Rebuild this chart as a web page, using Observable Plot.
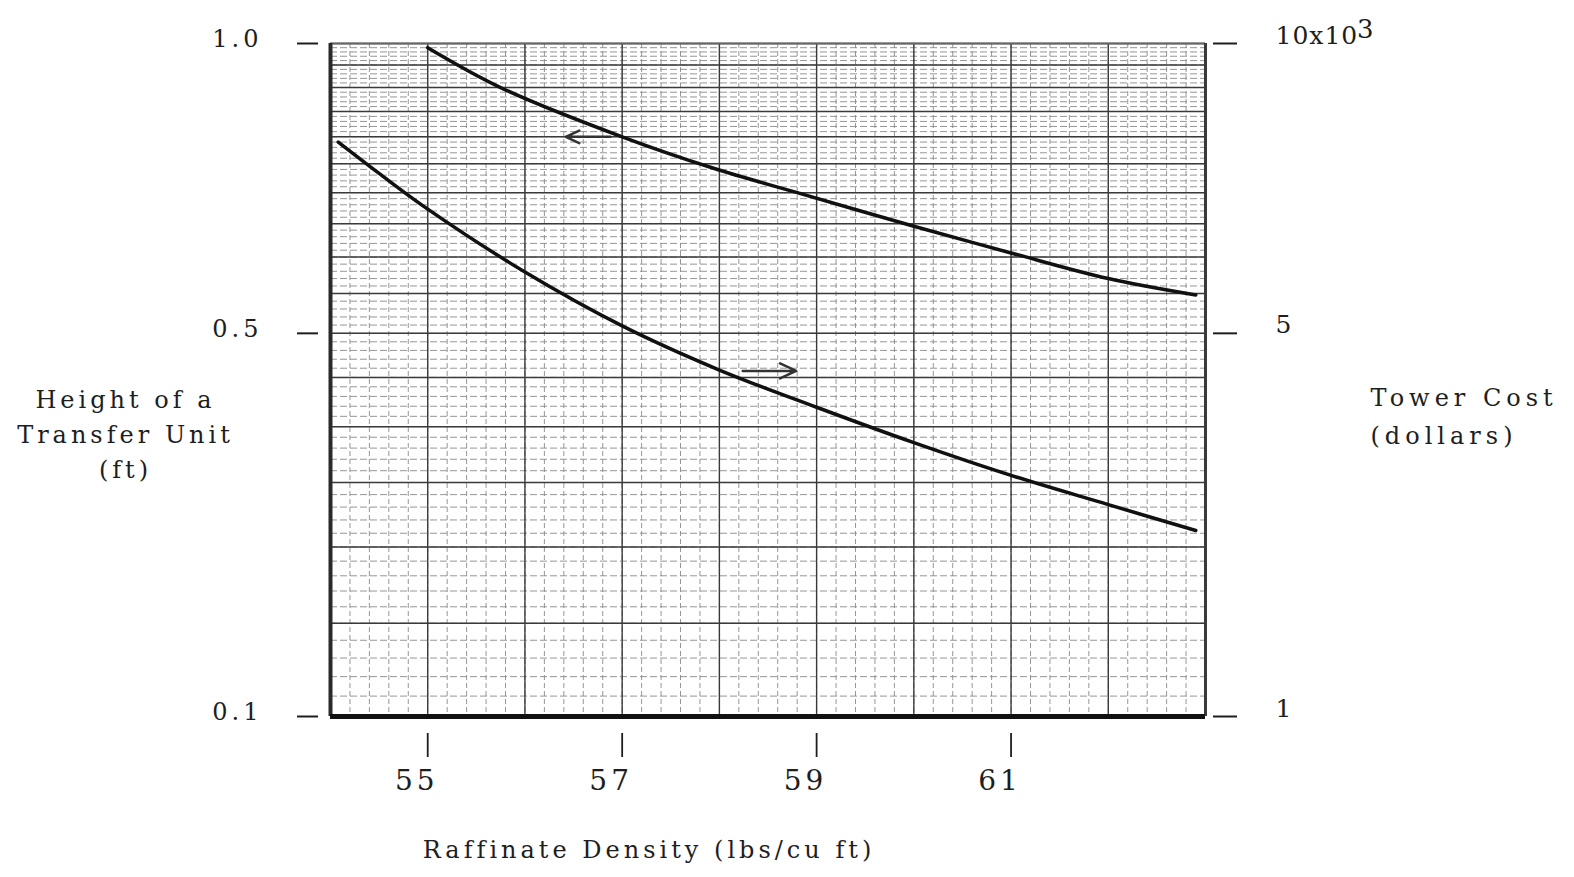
<!DOCTYPE html>
<html><head><meta charset="utf-8">
<script src="https://cdn.jsdelivr.net/npm/d3@7"></script>
<script src="https://cdn.jsdelivr.net/npm/@observablehq/plot@0.6"></script>
<style>
body{margin:0;background:#fff}
svg{display:block}
svg text{letter-spacing:4px}
svg g[text-anchor="start"][font-size="25"] text{letter-spacing:1px}
svg g[text-anchor="start"][font-size="24"] text{letter-spacing:5px}
svg g[font-size="26"] text{letter-spacing:0}
</style>
</head><body><div id="chart"></div>
<script>
// Height of a transfer unit (ft) vs raffinate density (lbs/cu ft)
const htuDensity = [55.0, 55.75, 57.0, 57.94, 58.8, 60.0, 61.0, 62.0, 62.9];
const htuValues  = [0.99, 0.90, 0.80, 0.742, 0.70, 0.646, 0.606, 0.570, 0.548];
// Tower cost (thousands of dollars) vs raffinate density
const costDensity = [54.08, 54.5, 55.0, 56.0, 57.0, 58.0, 59.0, 60.0, 61.0, 62.0, 62.9];
const costValues  = [7.90, 7.33, 6.73, 5.79, 5.09, 4.58, 4.19, 3.85, 3.56, 3.32, 3.12];
// axis ticks and their printed labels
const xTicks = [55, 57, 59, 61];
const yTicks = [0.2, 0.5, 1.0];
const leftTickLabels  = ["0.1", "0.5", "1.0"];
const rightTickLabels = ["1", "5", "10x10"];
const rightExponent = "3";
// arrows pointing each curve to its axis
const arrowFrom = [56.88, 58.24];
const arrowTo   = [56.42, 58.79];
const arrowAt   = [0.80, 0.457];

const htu = htuDensity.map((x, i) => ({x, y: htuValues[i]}));
const cost = costDensity.map((x, i) => ({x, c: costValues[i]}));
const arrows = arrowFrom.map((x1, i) => ({x1, x2: arrowTo[i], y: arrowAt[i]}));

const majorX = d3.range(54, 63.001, 1);
const minorX = d3.range(54, 63, 0.2);
const majorY = d3.range(0.2, 1.0001, 0.05);
const minorY = d3.range(0.2, 1.0, 0.01);
const font = "DejaVu Serif";
const ink = "#1e1e1e";

const chart = Plot.plot({
  width: 1574, height: 877,
  marginLeft: 330, marginRight: 369, marginTop: 43, marginBottom: 161,
  style: {fontFamily: font, background: "#fff", color: ink},
  x: {domain: [54, 63]},
  y: {type: "log", domain: [0.2, 1.0]},
  marks: [
    Plot.ruleX(minorX, {stroke: "#8a8a8a", strokeWidth: 0.9, strokeDasharray: "5,3"}),
    Plot.ruleY(minorY, {stroke: "#8a8a8a", strokeWidth: 0.9, strokeDasharray: "7,3"}),
    Plot.ruleX(majorX, {stroke: "#3a3a3a", strokeWidth: 1.4}),
    Plot.ruleY(majorY, {stroke: "#3a3a3a", strokeWidth: 1.5}),
    Plot.ruleY([1.0], {stroke: "#666", strokeWidth: 2}),
    Plot.ruleX([63], {stroke: "#3a3a3a", strokeWidth: 3}),
    Plot.ruleX([54], {stroke: "#2a2a2a", strokeWidth: 4}),
    Plot.ruleY([0.2], {stroke: "#111", strokeWidth: 5}),
    Plot.line(htu, {x: "x", y: "y", curve: "catmull-rom", stroke: "#111", strokeWidth: 3.5}),
    Plot.line(cost, {x: "x", y: d => d.c / 10, curve: "catmull-rom", stroke: "#111", strokeWidth: 3.5}),
    Plot.arrow(arrows, {x1: "x1", x2: "x2", y1: "y", y2: "y", stroke: "#333", strokeWidth: 2.5, headLength: 14, headAngle: 50}),
    // left axis
    Plot.axisY({anchor: "left", ticks: yTicks, tickSize: 21, dx: -12, tickFormat: () => "", label: null, stroke: ink, strokeWidth: 2}),
    Plot.axisY({anchor: "left", ticks: yTicks, tickSize: 0, tickPadding: 68, dy: -4, fontSize: 24,
      tickFormat: d => leftTickLabels[yTicks.indexOf(d)], label: null, fill: ink}),
    // right axis
    Plot.axisY({anchor: "right", ticks: yTicks, tickSize: 24, dx: 7, tickFormat: () => "", label: null, stroke: ink, strokeWidth: 2}),
    Plot.axisY({anchor: "right", ticks: yTicks, tickSize: 0, tickPadding: 70, dy: -8, fontSize: 25,
      tickFormat: d => rightTickLabels[yTicks.indexOf(d)], label: null, fill: ink}),
    Plot.text([rightExponent], {frameAnchor: "top-right", dx: 168, dy: -24, fontSize: 26, fill: ink}),
    // bottom axis
    Plot.axisX({ticks: xTicks, tickSize: 24, dy: 17, tickFormat: () => "", label: null, stroke: ink, strokeWidth: 1.8}),
    Plot.axisX({ticks: xTicks, tickSize: 0, tickPadding: 54, dx: -11, fontSize: 28, label: null, fill: ink}),
    // axis titles
    Plot.text(["Height of a\nTransfer Unit\n(ft)"], {frameAnchor: "left", dx: -205, dy: 52, textAnchor: "middle",
      fontSize: 24, lineHeight: 1.45, fill: ink}),
    Plot.text(["Tower Cost\n(dollars)"], {frameAnchor: "right", dx: 165, dy: 33, textAnchor: "start",
      fontSize: 24, lineHeight: 1.55, fill: ink}),
    Plot.text(["Raffinate Density (lbs/cu ft)"], {frameAnchor: "bottom", dx: -119, dy: 141, textAnchor: "middle",
      fontSize: 24, fill: ink})
  ]
});
document.getElementById("chart").appendChild(chart);
</script>
</body></html>
